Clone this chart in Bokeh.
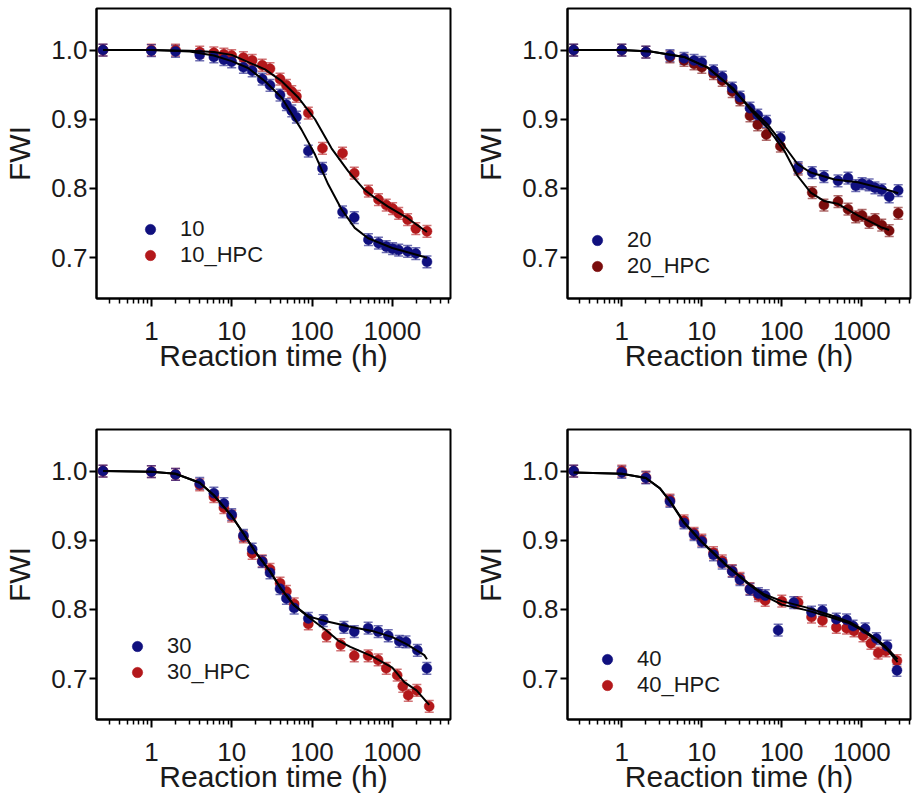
from bokeh.plotting import figure
from bokeh.layouts import column, row
from bokeh.models import (Range1d, FixedTicker, PrintfTickFormatter, Whisker, TeeHead,
                          ColumnDataSource, Legend, LegendItem)
from bokeh.embed import file_html
from bokeh.resources import INLINE

# ---------------- data ----------------
# Panel 10
t10 = [0.25, 1, 2, 4, 6, 8, 10, 14, 18, 24, 30, 40, 48, 56, 64, 90, 135, 240, 336, 504, 672, 840, 1008, 1200, 1550, 1960, 2700]
fwi10 = [1.000, 0.999, 0.998, 0.993, 0.990, 0.986, 0.983, 0.975, 0.970, 0.958, 0.949, 0.935, 0.921, 0.912, 0.903, 0.854, 0.829, 0.766, 0.758, 0.726, 0.721, 0.716, 0.713, 0.711, 0.709, 0.706, 0.694]
fwi10_hpc = [1.000, 1.000, 1.000, 0.997, 0.996, 0.994, 0.992, 0.989, 0.985, 0.978, 0.973, 0.958, 0.949, 0.940, 0.933, 0.909, 0.858, 0.851, 0.822, 0.796, 0.784, 0.776, 0.771, 0.764, 0.755, 0.742, 0.738]
fit10_t = [0.25, 1, 3, 6, 10, 16, 26, 42, 74, 109, 159, 233, 340, 500, 1000, 2700]
fit10 = [1.000, 1.000, 0.998, 0.992, 0.984, 0.974, 0.955, 0.931, 0.885, 0.849, 0.806, 0.770, 0.743, 0.728, 0.714, 0.700]
fit10_hpc_t = [0.25, 1, 3, 6, 10, 26, 42, 68, 109, 175, 282, 450, 600, 875, 1550, 2700]
fit10_hpc = [1.000, 1.000, 0.999, 0.997, 0.993, 0.972, 0.955, 0.931, 0.900, 0.858, 0.825, 0.798, 0.787, 0.774, 0.757, 0.737]

# Panel 20
t20 = [0.25, 1, 2, 4, 6, 8, 10, 14, 18, 24, 30, 40, 50, 64, 96, 160, 240, 336, 504, 672, 840, 1008, 1235, 1460, 1775, 2200, 2850]
fwi20 = [1.000, 1.000, 0.997, 0.992, 0.988, 0.985, 0.982, 0.970, 0.961, 0.945, 0.932, 0.916, 0.906, 0.897, 0.873, 0.830, 0.823, 0.817, 0.811, 0.815, 0.804, 0.807, 0.805, 0.801, 0.798, 0.788, 0.797]
fwi20_hpc = [1.000, 1.000, 0.997, 0.990, 0.985, 0.980, 0.975, 0.966, 0.956, 0.940, 0.928, 0.905, 0.892, 0.878, 0.861, 0.828, 0.794, 0.776, 0.781, 0.770, 0.759, 0.761, 0.751, 0.755, 0.747, 0.739, 0.764]
fit20_t = [0.25, 1, 2.3, 6, 11.7, 20.8, 41, 67, 108, 158, 230, 456, 890, 1950, 2850]
fit20 = [1.000, 1.000, 0.998, 0.990, 0.975, 0.951, 0.916, 0.892, 0.861, 0.835, 0.823, 0.813, 0.809, 0.799, 0.793]
fit20_hpc_t = [0.25, 1, 2.3, 6, 11.7, 25, 41, 67, 108, 158, 230, 336, 496, 890, 1740, 2200]
fit20_hpc = [1.000, 1.000, 0.998, 0.990, 0.975, 0.944, 0.913, 0.887, 0.854, 0.818, 0.794, 0.782, 0.778, 0.761, 0.744, 0.740]

# Panel 30
t30 = [0.25, 1, 2, 4, 6, 8, 10, 14, 18, 24, 30, 40, 48, 60, 90, 138, 250, 336, 500, 666, 890, 1220, 1480, 2050, 2690]
fwi30 = [1.000, 0.999, 0.995, 0.982, 0.968, 0.953, 0.937, 0.907, 0.887, 0.869, 0.853, 0.830, 0.816, 0.802, 0.787, 0.784, 0.774, 0.768, 0.773, 0.768, 0.762, 0.754, 0.753, 0.741, 0.715]
t30_hpc = [0.25, 1, 2, 4, 6, 8, 10, 14, 18, 24, 30, 40, 48, 60, 90, 152, 228, 336, 500, 666, 840, 1150, 1350, 1580, 2020, 2880]
fwi30_hpc = [1.000, 0.999, 0.995, 0.980, 0.963, 0.947, 0.935, 0.905, 0.881, 0.870, 0.858, 0.838, 0.826, 0.808, 0.779, 0.762, 0.749, 0.733, 0.733, 0.727, 0.715, 0.705, 0.689, 0.676, 0.683, 0.660]
fit30_t = [0.25, 1, 2, 4, 6, 10, 14, 20, 30, 40, 60, 90, 150, 300, 600, 1000, 1500, 2500, 2700]
fit30 = [1.000, 0.999, 0.996, 0.983, 0.965, 0.935, 0.910, 0.882, 0.855, 0.832, 0.806, 0.790, 0.783, 0.775, 0.768, 0.760, 0.750, 0.734, 0.728]
fit30_hpc_t = [0.25, 1, 2, 4, 6, 10, 14, 20, 30, 40, 60, 90, 150, 212, 300, 546, 1000, 1410, 2000, 2880]
fit30_hpc = [1.000, 0.999, 0.996, 0.983, 0.965, 0.935, 0.910, 0.882, 0.855, 0.832, 0.806, 0.789, 0.770, 0.755, 0.746, 0.733, 0.716, 0.695, 0.683, 0.662]

# Panel 40
t40 = [0.25, 1, 2, 4, 6, 8, 10, 14, 18, 24, 30, 40, 51, 62, 90, 141, 235, 322, 480, 645, 778, 1100, 1520, 2070, 2750]
fwi40 = [1.000, 0.998, 0.990, 0.956, 0.925, 0.908, 0.898, 0.879, 0.867, 0.855, 0.843, 0.829, 0.823, 0.820, 0.770, 0.810, 0.796, 0.798, 0.786, 0.785, 0.776, 0.772, 0.758, 0.747, 0.712]
t40_hpc = [0.25, 1, 2, 4, 6, 8, 10, 14, 18, 24, 30, 40, 51, 62, 100, 160, 235, 322, 480, 645, 800, 1035, 1300, 1600, 2000, 2750]
fwi40_hpc = [1.000, 1.000, 0.991, 0.958, 0.928, 0.910, 0.900, 0.882, 0.870, 0.856, 0.845, 0.830, 0.820, 0.813, 0.812, 0.810, 0.789, 0.784, 0.774, 0.773, 0.769, 0.762, 0.751, 0.737, 0.740, 0.726]
fit40_t = [0.25, 1, 2, 3, 4, 6, 10, 20, 40, 60, 100, 200, 400, 700, 1000, 1500, 2000, 2800]
fit40 = [0.998, 0.996, 0.990, 0.975, 0.957, 0.926, 0.898, 0.865, 0.836, 0.822, 0.812, 0.803, 0.792, 0.782, 0.772, 0.758, 0.746, 0.728]
fit40_hpc = [0.998, 0.996, 0.990, 0.975, 0.956, 0.925, 0.897, 0.864, 0.835, 0.820, 0.807, 0.799, 0.789, 0.780, 0.770, 0.756, 0.744, 0.724]

ERR = 0.0085  # half-length of the error bars

x_major = [1, 10, 100, 1000]
x_minor = [0.2, 0.3, 0.4, 0.5, 0.6, 0.7, 0.8, 0.9, 2, 3, 4, 5, 6, 7, 8, 9,
           20, 30, 40, 50, 60, 70, 80, 90, 200, 300, 400, 500, 600, 700, 800, 900,
           2000, 3000, 4000, 5000]
y_ticks = [0.7, 0.8, 0.9, 1.0]

# ---------------- style ----------------
FONT = "Liberation Sans"
TXT = "#1a1a1a"
BLUE = "#10107e"
RED = "#b3181b"
MAROON = "#7a0c0c"


def make_panel(ta, ya, tb, yb, fta, fya, ftb, fyb, lab_a, lab_b, col_b,
               width, height, b_left, b_right, b_top, b_bottom, x_start, x_end, leg_loc):
    p = figure(width=width, height=height, x_axis_type="log",
               x_range=Range1d(x_start, x_end), y_range=Range1d(0.641, 1.06),
               output_backend="svg", toolbar_location=None,
               min_border_left=b_left, min_border_right=b_right,
               min_border_top=b_top, min_border_bottom=b_bottom)
    p.grid.visible = False
    p.outline_line_color = "black"
    p.outline_line_width = 2
    p.background_fill_color = "white"
    p.border_fill_color = "white"

    xa = p.xaxis[0]
    xa.ticker = FixedTicker(ticks=x_major, minor_ticks=x_minor)
    xa.formatter = PrintfTickFormatter(format="%d")
    xa.axis_label = "Reaction time (h)"
    xa.major_tick_out = 8
    xa.major_tick_in = 0
    xa.minor_tick_out = 5
    xa.minor_tick_in = 0
    xa.major_label_standoff = 15

    ya_ax = p.yaxis[0]
    ya_ax.ticker = FixedTicker(ticks=y_ticks)
    ya_ax.formatter = PrintfTickFormatter(format="%.1f")
    ya_ax.axis_label = "FWI"
    ya_ax.major_tick_out = 7
    ya_ax.major_tick_in = 0
    ya_ax.minor_tick_out = 0
    ya_ax.minor_tick_in = 0
    ya_ax.major_label_standoff = 2
    ya_ax.axis_label_standoff = 12

    for ax in (xa, ya_ax):
        ax.axis_line_width = 2
        ax.axis_line_color = "black"
        ax.major_tick_line_width = 2
        ax.minor_tick_line_width = 1.5
        ax.major_tick_line_color = "black"
        ax.minor_tick_line_color = "black"
        ax.major_label_text_font = FONT
        ax.major_label_text_font_size = "26px"
        ax.major_label_text_color = TXT
        ax.axis_label_text_font = FONT
        ax.axis_label_text_font_size = "30px"
        ax.axis_label_text_font_style = "normal"
        ax.axis_label_text_color = TXT
    xa.axis_label_standoff = -4

    rends = []
    for t, y, col in ((tb, yb, col_b), (ta, ya, BLUE)):
        src = ColumnDataSource(dict(t=t, y=y,
                                    hi=[v + ERR for v in y],
                                    lo=[v - ERR for v in y]))
        w = Whisker(source=src, base="t", upper="hi", lower="lo",
                    line_color=col, line_alpha=0.6, line_width=1.5,
                    upper_head=TeeHead(size=9, line_color=col, line_alpha=0.6, line_width=1.5),
                    lower_head=TeeHead(size=9, line_color=col, line_alpha=0.6, line_width=1.5))
        p.add_layout(w)
        rends.append(p.scatter("t", "y", source=src, size=10, marker="circle",
                               fill_color=col, line_color=col, line_width=0.5))

    p.line(fta, fya, line_color="black", line_width=2)
    p.line(ftb, fyb, line_color="black", line_width=2)

    legend = Legend(items=[LegendItem(label=lab_a, renderers=[rends[1]]),
                           LegendItem(label=lab_b, renderers=[rends[0]])],
                    location=leg_loc)
    legend.label_text_font = FONT
    legend.label_text_font_size = "22px"
    legend.label_text_color = TXT
    legend.border_line_alpha = 0
    legend.background_fill_alpha = 0
    legend.padding = 0
    legend.margin = 0
    legend.spacing = 0
    legend.glyph_width = 28
    legend.glyph_height = 26
    legend.label_height = 20
    legend.label_standoff = 16
    p.add_layout(legend)
    return p


p10 = make_panel(t10, fwi10, t10, fwi10_hpc, fit10_t, fit10, fit10_hpc_t, fit10_hpc,
                 "10", "10_HPC", RED, 457, 415, 93, 7, 8, 117, 0.2075, 5300, (40, 30))
p20 = make_panel(t20, fwi20, t20, fwi20_hpc, fit20_t, fit20, fit20_hpc_t, fit20_hpc,
                 "20", "20_HPC", MAROON, 455, 415, 110, 2, 8, 117, 0.2095, 4060, (16, 19))
p30 = make_panel(t30, fwi30, t30_hpc, fwi30_hpc, fit30_t, fit30, fit30_hpc_t, fit30_hpc,
                 "30", "30_HPC", RED, 457, 380, 93, 7, 14, 70, 0.2075, 5300, (27, 34))
p40 = make_panel(t40, fwi40, t40_hpc, fwi40_hpc, fit40_t, fit40, fit40_t, fit40_hpc,
                 "40", "40_HPC", RED, 455, 380, 110, 2, 14, 70, 0.2095, 4060, (26, 21))

layout = column(row(p10, p20), row(p30, p40))

open("out.html", "w").write(file_html(layout, INLINE))
